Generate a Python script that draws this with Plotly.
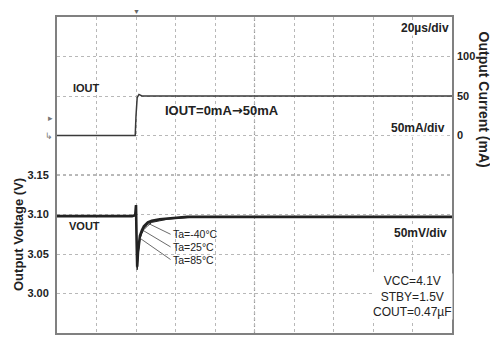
import plotly.graph_objects as go

# ---- data ----
t_i = [0, 39.6, 40.0, 40.6, 41.5, 43.0, 200]
i_out = [0, 0, 25, 48, 52, 50, 50]

t_v = [0, 38, 39.6, 40.0, 40.3, 40.6, 41.0, 41.5, 42.0, 43.0, 44.0, 46.0, 48.0, 52.0, 56.0, 60.0, 66.0, 72.0, 80.0, 100, 130, 160, 200]
v_m40 = [3.098, 3.098, 3.099, 3.112, 3.068, 3.034, 3.052, 3.066, 3.073, 3.080, 3.085, 3.090, 3.092, 3.094, 3.095, 3.096, 3.097, 3.097, 3.097, 3.097, 3.097, 3.097, 3.097]
v_25 = [3.098, 3.098, 3.099, 3.111, 3.067, 3.032, 3.050, 3.063, 3.071, 3.078, 3.083, 3.088, 3.091, 3.093, 3.095, 3.096, 3.097, 3.097, 3.097, 3.097, 3.097, 3.097, 3.097]
v_85 = [3.098, 3.098, 3.099, 3.110, 3.066, 3.030, 3.048, 3.061, 3.069, 3.076, 3.081, 3.086, 3.090, 3.092, 3.094, 3.095, 3.096, 3.097, 3.097, 3.097, 3.097, 3.097, 3.097]

v_ticks = [3.00, 3.05, 3.10, 3.15, 3.20, 3.25, 3.30]
v_ticktext = ["3.00", "3.05", "3.10", "3.15", "", "", ""]
i_ticks = [0, 50, 100]
t_grid = [20, 40, 60, 80, 100, 120, 140, 160, 180]

FONT = "Liberation Sans, Arial, sans-serif"
DARK = "#222222"

fig = go.Figure()
fig.add_trace(go.Scatter(x=t_i, y=i_out, yaxis="y2", mode="lines",
                         line=dict(color="#3a3a3a", width=1.5), showlegend=False))
for v, w in [(v_85, 1.0), (v_25, 1.0), (v_m40, 2.6)]:
    fig.add_trace(go.Scatter(x=t_v, y=v, mode="lines",
                             line=dict(color=DARK, width=w), showlegend=False))

# page body has an 8px margin: figure is sized/offset accordingly
fig.update_layout(
    width=490, height=330,
    margin=dict(l=49, r=46, t=9, b=5),
    paper_bgcolor="white", plot_bgcolor="white",
    font=dict(family=FONT, color=DARK),
    xaxis=dict(range=[0, 200], tickvals=t_grid, showticklabels=False,
               showgrid=True, gridcolor="#b8b8b8", griddash="dot", gridwidth=1,
               showline=True, linecolor="#808080", linewidth=2, mirror=True,
               zeroline=False, ticks=""),
    yaxis=dict(range=[2.95, 3.35], tickvals=v_ticks, ticktext=v_ticktext,
               showgrid=True, gridcolor="#b8b8b8", griddash="dot", gridwidth=1,
               showline=True, linecolor="#808080", linewidth=2, mirror=True,
               zeroline=False, ticks="", ticklabelstandoff=4,
               tickfont=dict(size=11, family=FONT, color=DARK, weight="bold")),
    yaxis2=dict(range=[-250, 150], overlaying="y", side="right", tickvals=i_ticks,
                showgrid=False, zeroline=False, ticks="", showline=False, ticklabelstandoff=4,
                tickfont=dict(size=11, family=FONT, color=DARK, weight="bold")),
)

# center graticule lines (darker dotted)
fig.add_shape(type="line", xref="paper", x0=0, x1=1, yref="y", y0=3.15, y1=3.15,
              line=dict(color="#777777", width=1.2, dash="dot"), layer="below")
fig.add_shape(type="line", xref="x", x0=100, x1=100, yref="paper", y0=0, y1=1,
              line=dict(color="#999999", width=1.2, dash="dot"), layer="below")

def txt(x, y, s, size=11, bold=True, xanchor="left", xref="paper", yref="paper", bg=None, color=DARK):
    fig.add_annotation(x=x, y=y, xref=xref, yref=yref, text=s, showarrow=False,
                       xanchor=xanchor, yanchor="middle",
                       font=dict(size=size, family=FONT, color=color, weight="bold" if bold else "normal"),
                       bgcolor=bg, borderpad=0)

txt(0.995, 0.965, "20µs/div", size=12, xanchor="right", bg="white")
txt(0.985, 0.65, "50mA/div", size=12, xanchor="right", bg="white")
txt(0.99, 0.315, "50mV/div", size=12, xanchor="right", bg="white")
txt(7.5, 60, "IOUT", xref="x", yref="y2")
txt(54, 32, "IOUT=0mA<span style='font-family:DejaVu Sans'>→</span>50mA", size=13, xref="x", yref="y2")
txt(5.5, 3.085, "VOUT", xref="x", yref="y")

# conditions
txt(0.798, 0.115, "VCC=4.1V<br>STBY=1.5V<br>COUT=0.47µF", size=12, bold=False, bg="white")

# temperature labels with leader lines
temps = ["Ta=-40°C", "Ta=25°C", "Ta=85°C"]
lab_v = [3.075, 3.059, 3.043]
pt_t = [46.0, 43.5, 42.0]
pt_v = [3.089, 3.080, 3.070]
for s, lv, pt, pv in zip(temps, lab_v, pt_t, pt_v):
    txt(58.0, lv, s, size=10.5, bold=False, xref="x", yref="y")
    fig.add_shape(type="line", xref="x", yref="y", x0=pt, y0=pv, x1=57.5, y1=lv,
                  line=dict(color="#444444", width=0.8))

# axis titles
fig.add_annotation(x=-0.099, y=0.313, xref="paper", yref="paper", text="Output Voltage (V)",
                   xanchor="center", yanchor="middle",
                   showarrow=False, textangle=-90, font=dict(size=13, family=FONT, color=DARK, weight="bold"))
fig.add_annotation(x=1.08, y=0.74, xref="paper", yref="paper", text="Output Current (mA)",
                   xanchor="center", yanchor="middle",
                   showarrow=False, textangle=90, font=dict(size=14, family=FONT, color=DARK, weight="bold"))

# scope markers
fig.add_annotation(x=40, y=1.0, xref="x", yref="paper", yanchor="bottom", text="▼", showarrow=False,
                   font=dict(size=7, color="#666666"))
fig.add_annotation(x=-0.005, y=22, xref="paper", yref="y2", xanchor="right", text="▸", showarrow=False,
                   font=dict(size=9, color="#777777"))
fig.add_annotation(x=-0.005, y=0, xref="paper", yref="y2", xanchor="right", text="↳", showarrow=False,
                   font=dict(size=9, color="#777777"))

fig.write_html("out.html")
